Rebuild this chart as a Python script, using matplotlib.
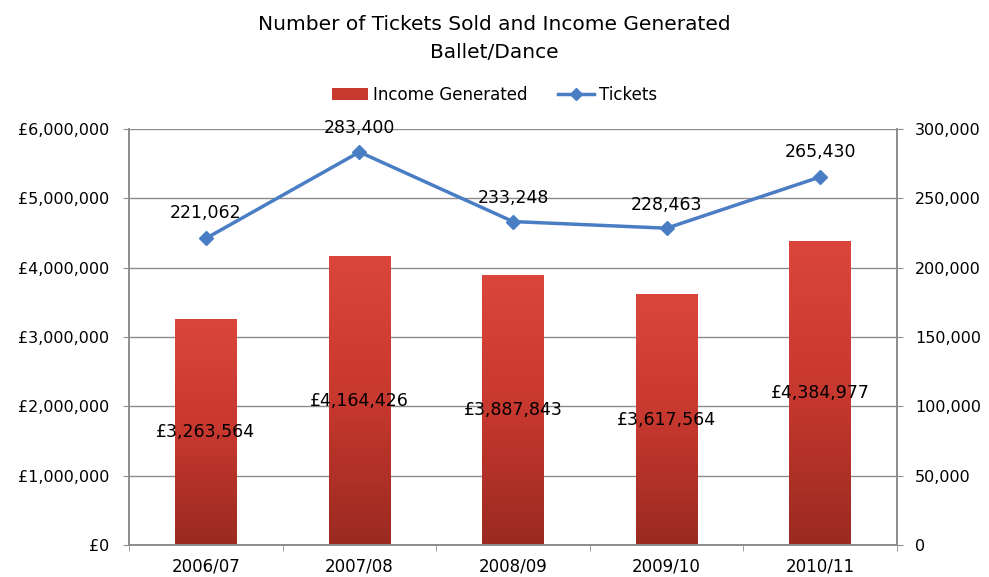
import matplotlib
matplotlib.use("Agg")
import matplotlib.pyplot as plt
import numpy as np
from matplotlib.colors import LinearSegmentedColormap
from matplotlib.lines import Line2D
from matplotlib.patches import Patch

categories = ["2006/07", "2007/08", "2008/09", "2009/10", "2010/11"]
income = [3263564, 4164426, 3887843, 3617564, 4384977]
tickets = [221062, 283400, 233248, 228463, 265430]
left_ticks = [0, 1000000, 2000000, 3000000, 4000000, 5000000, 6000000]
right_ticks = [0, 50000, 100000, 150000, 200000, 250000, 300000]

plt.rcParams['font.family'] = ['DejaVu Sans']
fig = plt.figure(figsize=(9.89, 5.77), dpi=100)
ax = fig.add_axes([129/989, 32/577, 768/989, 416/577])
ax2 = ax.twinx()

grid_c = "#8c8c8c"
x = np.arange(len(categories))
bw = 0.40
bars = ax.bar(x, income, width=bw, color="none", edgecolor="none", zorder=2)
cmap = LinearSegmentedColormap.from_list("redgrad", ["#9a2a20", "#c7382f", "#da463c"])
grad = np.linspace(0, 1, 256).reshape(-1, 1)
for b in bars:
    x0 = b.get_x(); w = b.get_width(); h = b.get_height()
    im = ax.imshow(grad, cmap=cmap, origin="lower", aspect="auto",
                   extent=(x0, x0 + w, 0, h), zorder=2)
    im.set_clip_path(b)

ax.set_xlim(-0.5, len(categories) - 0.5)
ax.set_ylim(0, 6000000)
ax2.set_ylim(0, 300000)
ax.set_yticks(left_ticks)
ax.set_yticklabels(["£0" if v == 0 else "£{:,}".format(v) for v in left_ticks], fontsize=11.5)
ax2.set_yticks(right_ticks)
ax2.set_yticklabels(["{:,}".format(v) for v in right_ticks], fontsize=11.5)
ax.set_xticks(x)
ax.set_xticklabels(categories, fontsize=12)
ax.set_xticks(np.arange(-0.5, len(categories)), minor=True)
ax.tick_params(axis="x", which="major", length=0, pad=9)
ax.tick_params(axis="x", which="minor", length=4, color=grid_c, direction="out")
ax.tick_params(axis="y", length=4, color=grid_c, pad=10)
ax2.tick_params(axis="y", length=4, color=grid_c, pad=9)
ax.grid(axis="y", color=grid_c, lw=1, zorder=0)
ax.set_axisbelow(True)
for a in (ax, ax2):
    a.spines["top"].set_visible(False)
    for s in ("left", "right", "bottom"):
        a.spines[s].set_color(grid_c)
        a.spines[s].set_linewidth(1.2)

for xi, v in zip(x, income):
    ax.text(xi, v / 2, "£{:,}".format(v), ha="center", va="center", fontsize=12.5, zorder=5)

line_c = "#4a7ec4"
ax2.plot(x, tickets, color=line_c, lw=2.5, marker="D", ms=7, zorder=4)
offsets = [18, 17, 17, 17, 18]
for xi, v, o in zip(x, tickets, offsets):
    ax2.annotate("{:,}".format(v), (xi, v), xytext=(0, o), textcoords="offset points",
                 ha="center", va="center", fontsize=12.5, zorder=6, annotation_clip=False)

fig.text(0.5, 1 - 25/577, "Number of Tickets Sold and Income Generated", ha="center", va="center", fontsize=14.5)
fig.text(0.5, 1 - 52/577, "Ballet/Dance", ha="center", va="center", fontsize=14.5)

handles = [Patch(facecolor="#c7382f", edgecolor="none"),
           Line2D([0], [0], color=line_c, lw=2.5, marker="D", ms=6)]
fig.legend(handles, ["Income Generated", "Tickets"], loc="center", bbox_to_anchor=(0.5, 1 - 95/577),
           ncol=2, frameon=False, fontsize=12, handlelength=2.2, handletextpad=0.3, columnspacing=1.8)

fig.savefig("out.png", dpi=100)
